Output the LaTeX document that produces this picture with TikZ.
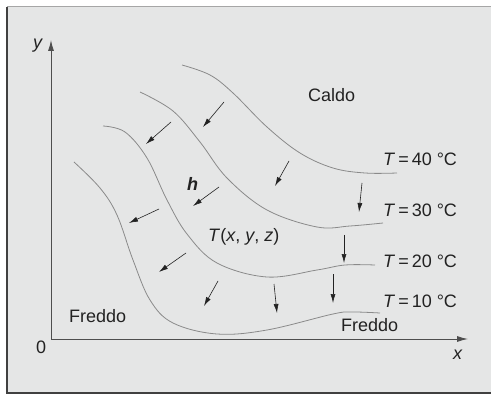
\documentclass[tikz,border=0pt]{standalone}
\usepackage{fontspec}
\setmainfont{Liberation Sans}
\usetikzlibrary{arrows.meta}
\definecolor{bgfill}{HTML}{E5E6E6}
\definecolor{ink}{HTML}{222222}
\definecolor{contour}{HTML}{8A8A8A}
\tikzset{
  lbl/.style={anchor=base west, inner sep=0pt, text=ink, font=\fontsize{18}{20}\selectfont},
  iso/.style={draw=contour, line width=0.8pt},
  flux/.style={draw=ink, line width=0.6pt, -{Latex[length=9pt,width=5pt]}},
  axis/.style={draw=ink!80, line width=0.9pt, -{Latex[length=11pt,width=6pt]}}
}
\begin{document}
\begin{tikzpicture}[x=1pt,y=-1pt]
\useasboundingbox (0,0) rectangle (491,396);
% frame
\fill[bgfill] (7,7) rectangle (493,393);
\draw[gray!70, line width=1pt] (7,7) -- (493,7);
\draw[black!75, line width=1.2pt] (7,7) -- (7,393) -- (493,393);
% axes
\coordinate (O) at (51,339);
\coordinate (ytip) at (51,40);
\coordinate (xtip) at (468,339);
\draw[axis] (O) -- (ytip);
\draw[axis] (O) -- (xtip);
\node[lbl] (ylab) at (33,49) {\textit{y}};
\node[lbl] (zero) at (36,353) {0};
\node[lbl] (xlab) at (453,359) {\textit{x}};
% isotherms
\draw[iso] plot[smooth, tension=0.6] coordinates {(182,65) (210,75) (233,93) (267,127) (300,153) (333,168) (365,173) (397,173)};
\draw[iso] plot[smooth, tension=0.6] coordinates {(140,92) (173,111) (200,142) (227,178) (267,210) (317,227) (350,226) (383,223)};
\draw[iso] plot[smooth, tension=0.6] coordinates {(103,126) (125,132) (147,158) (167,200) (187,234) (217,263) (267,277) (317,270) (345,265) (375,265)};
\draw[iso] plot[smooth, tension=0.6] coordinates {(74,162) (100,188) (117,215) (133,260) (150,300) (173,323) (217,334) (267,330) (333,314) (352,312) (380,313)};
% flux arrows
\foreach \n/\a/\b/\c/\d in {1/224/102/203/127, 2/171/122/146/144, 3/289/161/275/186, 4/362/183/359/212,
  5/219/187/193/206, 6/159/209/129/223, 7/344/235/344/263, 8/186/253/159/272,
  9/218/281/204/306, 10/274/284/277/313, 11/333/274/333/303}{
  \coordinate (s\n) at (\a,\b);
  \coordinate (e\n) at (\c,\d);
  \draw[flux] (s\n) -- (e\n);
}
% labels
\node[lbl] (caldo) at (308,102) {Caldo};
\node[lbl] (t40) at (383,166) {\textit{T}\,=\,40 °C};
\node[lbl] (t30) at (383,217) {\textit{T}\,=\,30 °C};
\node[lbl] (t20) at (383,268) {\textit{T}\,=\,20 °C};
\node[lbl] (t10) at (383,308) {\textit{T}\,=\,10 °C};
\node[lbl] (h) at (187,190) {\textbf{\textit{h}}};
\node[lbl] (txyz) at (208,242) {\textit{T}(\textit{x}, \textit{y}, \textit{z})};
\node[lbl] (fr1) at (69,322) {Freddo};
\node[lbl] (fr2) at (341,331) {Freddo};
\end{tikzpicture}
\end{document}
